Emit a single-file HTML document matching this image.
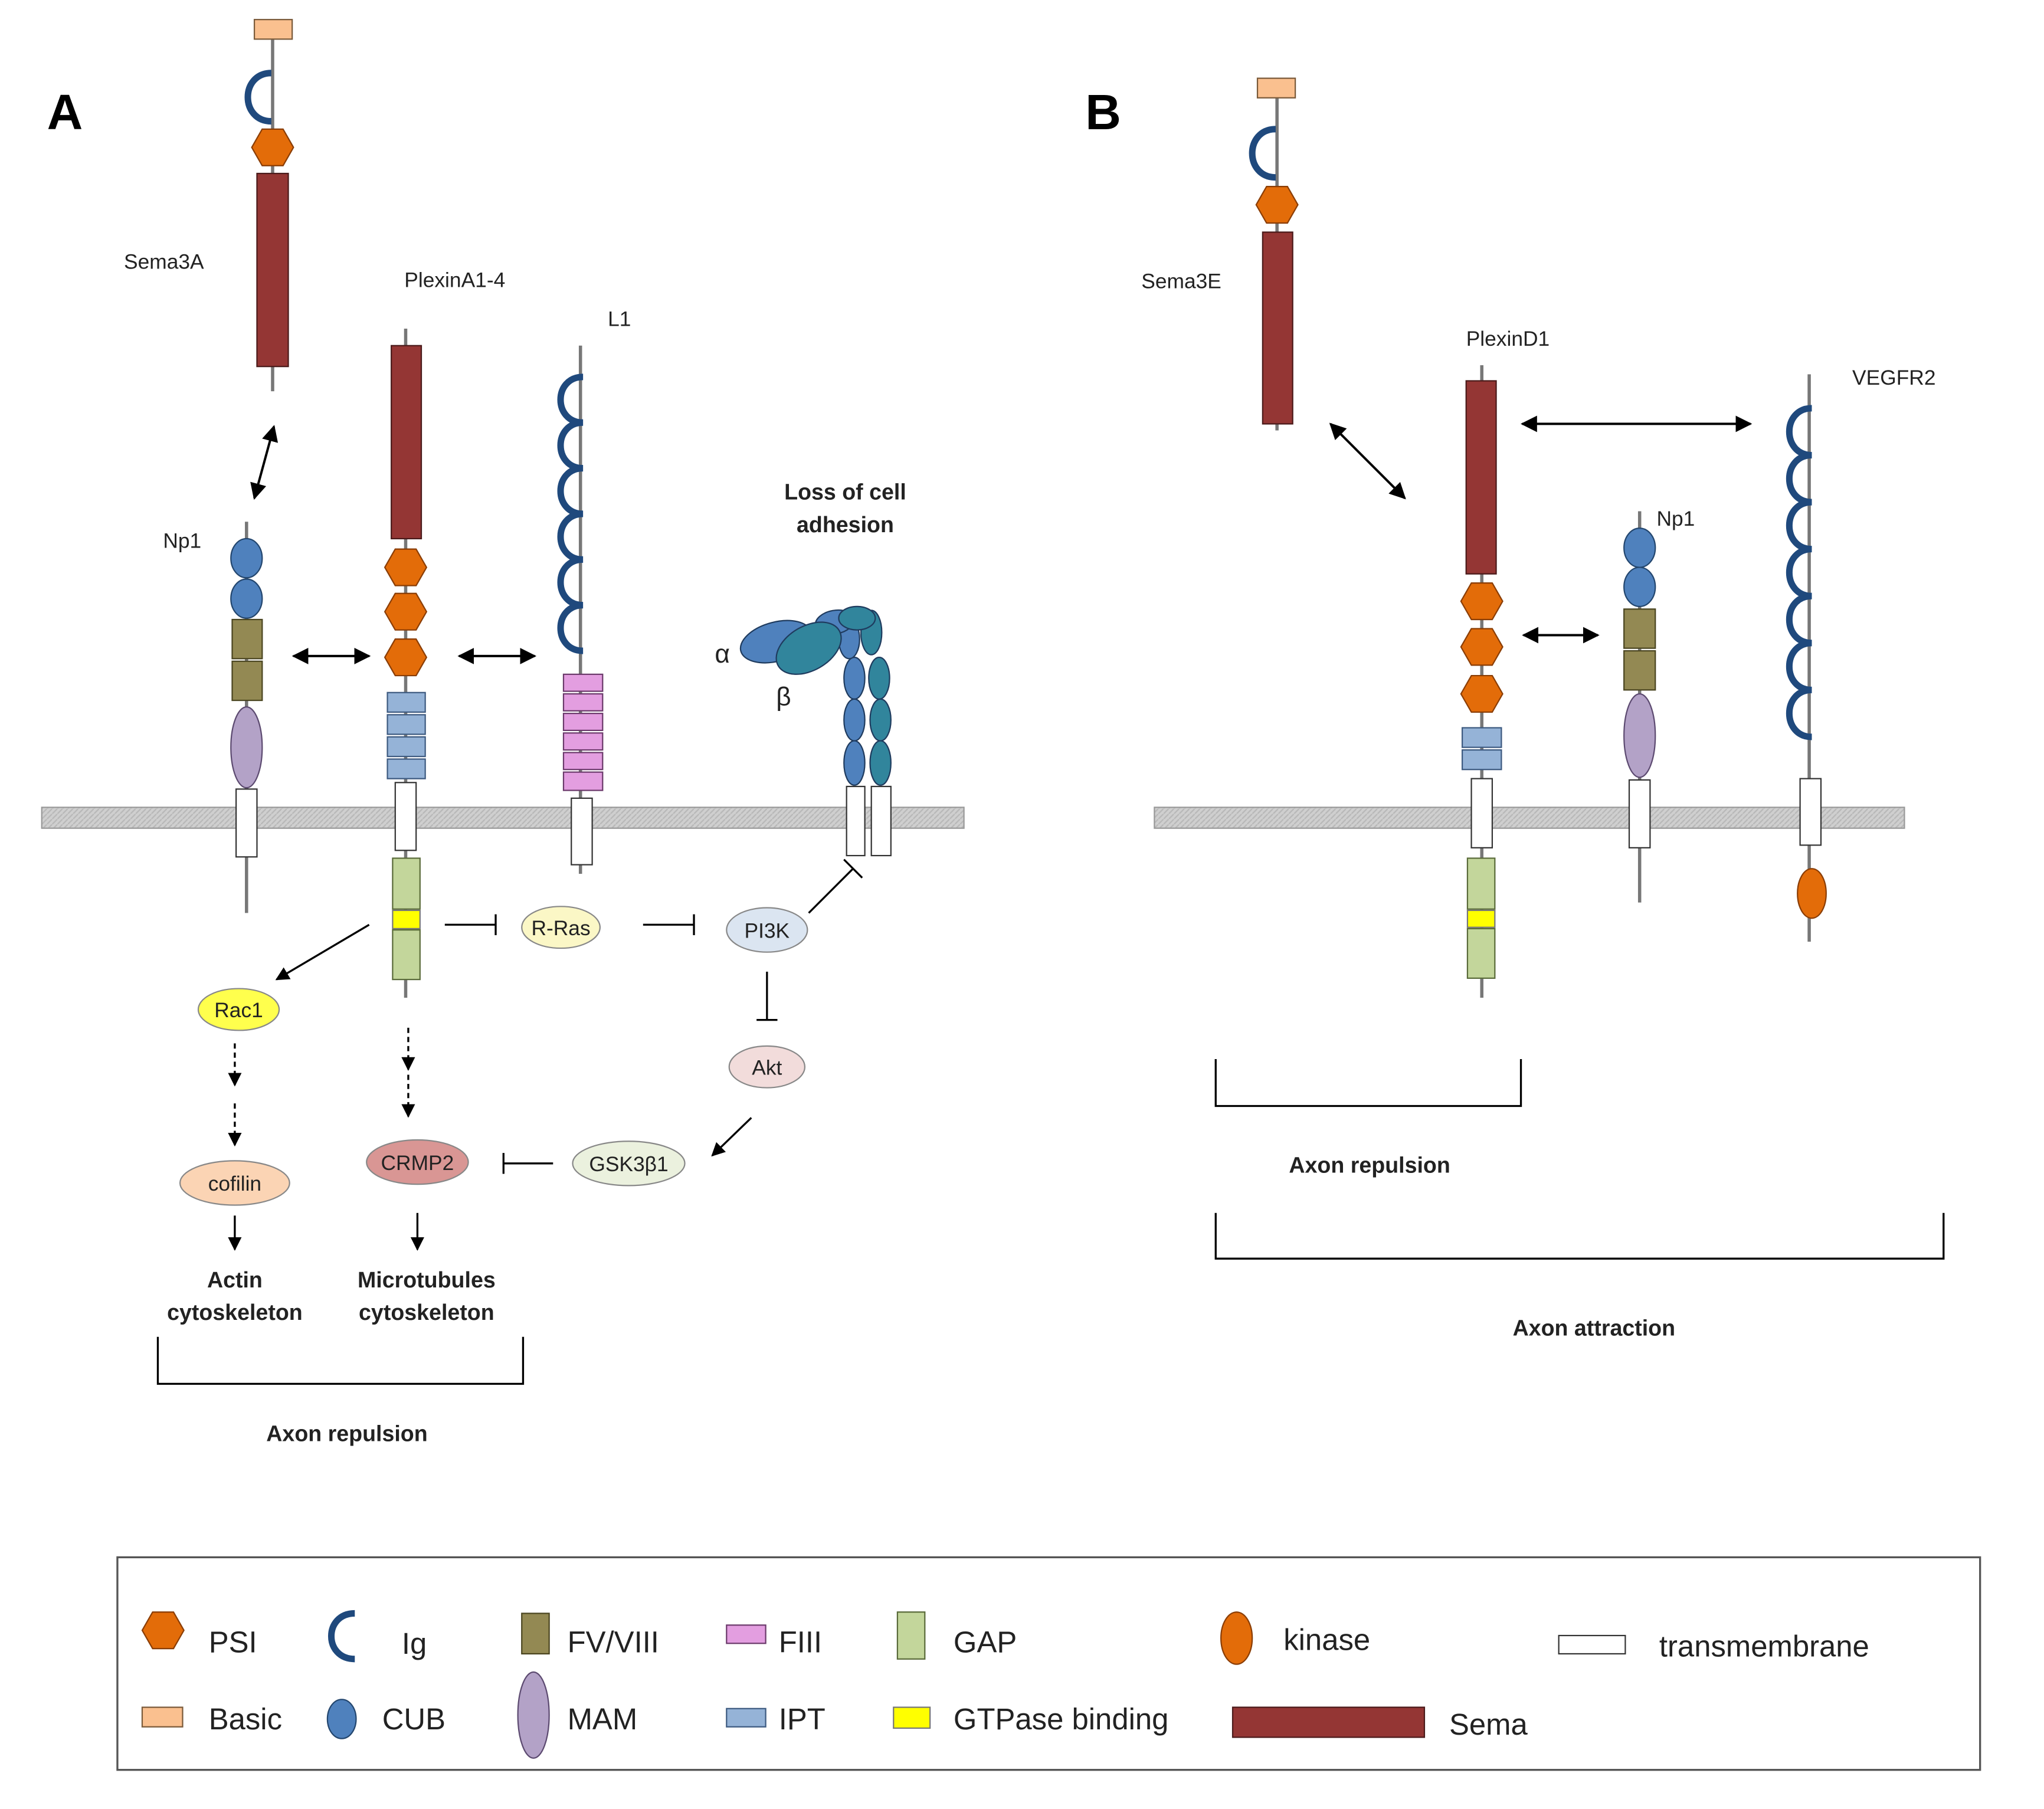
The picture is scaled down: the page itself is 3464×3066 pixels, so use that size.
<!DOCTYPE html>
<html><head><meta charset="utf-8"><style>
html,body{margin:0;padding:0;background:#fff}
svg{display:block}
text{font-family:"Liberation Sans",sans-serif;fill:#222}
.l{font-size:16px}
.b{font-size:17px;font-weight:bold}
.g{font-size:23px}
.n{font-size:16px}
</style></head><body>
<svg width="3464" height="3066" viewBox="0 0 1567 1387" preserveAspectRatio="none" xmlns="http://www.w3.org/2000/svg">
<defs>
<marker id="ah" viewBox="0 0 10 10" refX="9" refY="5" markerWidth="7" markerHeight="7" orient="auto-start-reverse"><path d="M0,0L10,5L0,10z" fill="#000"/></marker>
<pattern id="mem" width="4" height="4" patternUnits="userSpaceOnUse"><rect width="4" height="4" fill="#cfcfcf"/><path d="M0,4L4,0" stroke="#b8b8b8" stroke-width="1"/></pattern>
<g id="hex"><polygon points="-16,0 -8,-14 8,-14 16,0 8,14 -8,14" fill="#e36c09" stroke="#8a3d05" stroke-width="1"/></g>
</defs>
<rect width="1567" height="1387" fill="#fff"/>

<text x="36" y="99" style="font-size:38px;font-weight:bold;fill:#000">A</text>
<text x="832" y="99" style="font-size:38px;font-weight:bold;fill:#000">B</text>

<rect x="32" y="619" width="707" height="16" fill="url(#mem)" stroke="#999" stroke-width="1"/>
<rect x="885" y="619" width="575" height="16" fill="url(#mem)" stroke="#999" stroke-width="1"/>

<line x1="209" y1="30" x2="209" y2="300" stroke="#777" stroke-width="2.5"/>
<rect x="195" y="15" width="29" height="15" fill="#fac08f" stroke="#7a5a3a" stroke-width="1"/>
<path d="M208,56 C184,56 184,93 208,93" fill="none" stroke="#1f497d" stroke-width="5"/>
<use href="#hex" x="209" y="113"/>
<rect x="197" y="133" width="24" height="148" fill="#943634" stroke="#4a1a1a" stroke-width="1"/>
<text x="95" y="206" class="l">Sema3A</text>
<line x1="210" y1="327" x2="195" y2="382" stroke="#000" stroke-width="1.8" marker-start="url(#ah)" marker-end="url(#ah)"/>

<text x="125" y="420" class="l">Np1</text>
<line x1="189" y1="400" x2="189" y2="700" stroke="#777" stroke-width="2.5"/>
<ellipse cx="189" cy="428" rx="12" ry="15" fill="#4f81bd" stroke="#23466e" stroke-width="1"/>
<ellipse cx="189" cy="459" rx="12" ry="15" fill="#4f81bd" stroke="#23466e" stroke-width="1"/>
<rect x="178" y="475" width="23" height="30" fill="#938953" stroke="#4a4520" stroke-width="1"/>
<rect x="178" y="507" width="23" height="30" fill="#938953" stroke="#4a4520" stroke-width="1"/>
<ellipse cx="189" cy="573" rx="12" ry="31" fill="#b3a2c7" stroke="#5c4a70" stroke-width="1"/>
<rect x="181" y="605" width="16" height="52" fill="#fff" stroke="#333" stroke-width="1"/>
<line x1="225" y1="503" x2="283" y2="503" stroke="#000" stroke-width="1.8" marker-start="url(#ah)" marker-end="url(#ah)"/>

<text x="310" y="220" class="l">PlexinA1-4</text>
<line x1="311" y1="252" x2="311" y2="765" stroke="#777" stroke-width="2.5"/>
<rect x="300" y="265" width="23" height="148" fill="#943634" stroke="#4a1a1a" stroke-width="1"/>
<use href="#hex" x="311" y="435"/><use href="#hex" x="311" y="469"/><use href="#hex" x="311" y="504"/>
<g fill="#95b3d7" stroke="#3d5a80" stroke-width="1">
<rect x="297" y="531" width="29" height="15"/><rect x="297" y="548" width="29" height="15"/><rect x="297" y="565" width="29" height="15"/><rect x="297" y="582" width="29" height="15"/></g>
<rect x="303" y="600" width="16" height="52" fill="#fff" stroke="#333" stroke-width="1"/>
<rect x="301" y="658" width="21" height="39" fill="#c3d69b" stroke="#5a6b3a" stroke-width="1"/>
<rect x="301" y="698" width="21" height="14" fill="#ffff00" stroke="#777" stroke-width="1"/>
<rect x="301" y="713" width="21" height="38" fill="#c3d69b" stroke="#5a6b3a" stroke-width="1"/>
<line x1="352" y1="503" x2="410" y2="503" stroke="#000" stroke-width="1.8" marker-start="url(#ah)" marker-end="url(#ah)"/>

<text x="466" y="250" class="l">L1</text>
<line x1="445" y1="265" x2="445" y2="670" stroke="#777" stroke-width="2.5"/>
<path d="M447,289 C424,289 424,324 447,324 C424,324 424,359 447,359 C424,359 424,394 447,394 C424,394 424,429 447,429 C424,429 424,464 447,464 C424,464 424,499 447,499" fill="none" stroke="#1f497d" stroke-width="5"/>
<g fill="#e39ee0" stroke="#6b3a6b" stroke-width="1">
<rect x="432" y="517" width="30" height="13"/><rect x="432" y="532" width="30" height="13"/><rect x="432" y="547" width="30" height="13"/><rect x="432" y="562" width="30" height="13"/><rect x="432" y="577" width="30" height="13"/><rect x="432" y="592" width="30" height="14"/></g>
<rect x="438" y="612" width="16" height="51" fill="#fff" stroke="#333" stroke-width="1"/>

<text x="648" y="383" class="b" text-anchor="middle">Loss of cell</text>
<text x="648" y="408" class="b" text-anchor="middle">adhesion</text>
<g stroke="#1f3b5e" stroke-width="1">
<ellipse cx="655" cy="520" rx="8" ry="16" fill="#4f81bd"/><ellipse cx="655" cy="552" rx="8" ry="16" fill="#4f81bd"/><ellipse cx="655" cy="585" rx="8" ry="17" fill="#4f81bd"/><ellipse cx="651" cy="490" rx="8" ry="15" fill="#4f81bd"/>
<ellipse cx="674" cy="520" rx="8" ry="16" fill="#31859c"/><ellipse cx="675" cy="552" rx="8" ry="16" fill="#31859c"/><ellipse cx="675" cy="585" rx="8" ry="17" fill="#31859c"/><ellipse cx="668" cy="485" rx="8" ry="17" fill="#31859c"/>
<ellipse cx="640" cy="477" rx="15" ry="9" fill="#4f81bd" transform="rotate(-10 640 477)"/>
<ellipse cx="657" cy="474" rx="14" ry="9" fill="#31859c"/>
<ellipse cx="595" cy="492" rx="28" ry="15" fill="#4f81bd" transform="rotate(-15 595 492)"/>
<ellipse cx="620" cy="497" rx="27" ry="17" fill="#31859c" transform="rotate(-30 620 497)"/>
</g>
<rect x="649" y="603" width="14" height="53" fill="#fff" stroke="#333" stroke-width="1"/>
<rect x="668" y="603" width="15" height="53" fill="#fff" stroke="#333" stroke-width="1"/>
<text x="548" y="508" style="font-size:20px">α</text>
<text x="595" y="541" style="font-size:20px">β</text>

<g stroke="#000" stroke-width="1.5" fill="none">
<line x1="341" y1="709" x2="380" y2="709"/><line x1="380" y1="701" x2="380" y2="717"/>
<line x1="493" y1="709" x2="532" y2="709"/><line x1="532" y1="701" x2="532" y2="717"/>
<line x1="620" y1="700" x2="654" y2="666"/><line x1="647" y1="659" x2="661" y2="673"/>
<line x1="588" y1="745" x2="588" y2="782"/><line x1="580" y1="782" x2="596" y2="782"/>
<line x1="424" y1="892" x2="386" y2="892"/><line x1="386" y1="884" x2="386" y2="900"/>
<line x1="576" y1="857" x2="546" y2="886" marker-end="url(#ah)"/>
<line x1="283" y1="709" x2="212" y2="751" marker-end="url(#ah)"/>
<line x1="180" y1="800" x2="180" y2="832" stroke-dasharray="4,3" marker-end="url(#ah)"/>
<line x1="180" y1="846" x2="180" y2="878" stroke-dasharray="4,3" marker-end="url(#ah)"/>
<line x1="313" y1="788" x2="313" y2="820" stroke-dasharray="4,3" marker-end="url(#ah)"/>
<line x1="313" y1="824" x2="313" y2="856" stroke-dasharray="4,3" marker-end="url(#ah)"/>
<line x1="180" y1="932" x2="180" y2="958" marker-end="url(#ah)"/>
<line x1="320" y1="930" x2="320" y2="958" marker-end="url(#ah)"/>
<path d="M121,1025 V1061 H401 V1025"/>
</g>
<g stroke="#888" stroke-width="1">
<ellipse cx="430" cy="711" rx="30" ry="16" fill="#fbf7c6"/>
<ellipse cx="588" cy="713" rx="31" ry="17" fill="#dbe5f1"/>
<ellipse cx="588" cy="818" rx="29" ry="16" fill="#f2dcdb"/>
<ellipse cx="482" cy="892" rx="43" ry="17" fill="#ebf1de"/>
<ellipse cx="320" cy="891" rx="39" ry="17" fill="#d99694"/>
<ellipse cx="183" cy="774" rx="31" ry="16" fill="#ffff4d"/>
<ellipse cx="180" cy="907" rx="42" ry="17" fill="#fbd4b4"/>
</g>
<g text-anchor="middle">
<text x="430" y="717" class="n">R-Ras</text>
<text x="588" y="719" class="n">PI3K</text>
<text x="588" y="824" class="n">Akt</text>
<text x="482" y="898" class="n">GSK3β1</text>
<text x="320" y="897" class="n">CRMP2</text>
<text x="183" y="780" class="n">Rac1</text>
<text x="180" y="913" class="n">cofilin</text>
</g>
<text x="180" y="987" class="b" text-anchor="middle">Actin</text>
<text x="180" y="1012" class="b" text-anchor="middle">cytoskeleton</text>
<text x="327" y="987" class="b" text-anchor="middle">Microtubules</text>
<text x="327" y="1012" class="b" text-anchor="middle">cytoskeleton</text>
<text x="266" y="1105" class="b" text-anchor="middle">Axon repulsion</text>

<line x1="979" y1="75" x2="979" y2="330" stroke="#777" stroke-width="2.5"/>
<rect x="964" y="60" width="29" height="15" fill="#fac08f" stroke="#7a5a3a" stroke-width="1"/>
<path d="M978,99 C954,99 954,136 978,136" fill="none" stroke="#1f497d" stroke-width="5"/>
<use href="#hex" x="979" y="157"/>
<rect x="968" y="178" width="23" height="147" fill="#943634" stroke="#4a1a1a" stroke-width="1"/>
<text x="875" y="221" class="l">Sema3E</text>
<line x1="1020" y1="325" x2="1077" y2="382" stroke="#000" stroke-width="1.8" marker-start="url(#ah)" marker-end="url(#ah)"/>

<text x="1124" y="265" class="l">PlexinD1</text>
<line x1="1136" y1="280" x2="1136" y2="765" stroke="#777" stroke-width="2.5"/>
<rect x="1124" y="292" width="23" height="148" fill="#943634" stroke="#4a1a1a" stroke-width="1"/>
<use href="#hex" x="1136" y="461"/><use href="#hex" x="1136" y="496"/><use href="#hex" x="1136" y="532"/>
<g fill="#95b3d7" stroke="#3d5a80" stroke-width="1"><rect x="1121" y="558" width="30" height="15"/><rect x="1121" y="575" width="30" height="15"/></g>
<rect x="1128" y="597" width="16" height="53" fill="#fff" stroke="#333" stroke-width="1"/>
<rect x="1125" y="658" width="21" height="39" fill="#c3d69b" stroke="#5a6b3a" stroke-width="1"/>
<rect x="1125" y="698" width="21" height="13" fill="#ffff00" stroke="#777" stroke-width="1"/>
<rect x="1125" y="712" width="21" height="38" fill="#c3d69b" stroke="#5a6b3a" stroke-width="1"/>
<line x1="1167" y1="325" x2="1342" y2="325" stroke="#000" stroke-width="1.8" marker-start="url(#ah)" marker-end="url(#ah)"/>
<line x1="1168" y1="487" x2="1225" y2="487" stroke="#000" stroke-width="1.8" marker-start="url(#ah)" marker-end="url(#ah)"/>

<text x="1270" y="403" class="l">Np1</text>
<line x1="1257" y1="392" x2="1257" y2="692" stroke="#777" stroke-width="2.5"/>
<ellipse cx="1257" cy="420" rx="12" ry="15" fill="#4f81bd" stroke="#23466e" stroke-width="1"/>
<ellipse cx="1257" cy="450" rx="12" ry="15" fill="#4f81bd" stroke="#23466e" stroke-width="1"/>
<rect x="1245" y="467" width="24" height="30" fill="#938953" stroke="#4a4520" stroke-width="1"/>
<rect x="1245" y="499" width="24" height="30" fill="#938953" stroke="#4a4520" stroke-width="1"/>
<ellipse cx="1257" cy="564" rx="12" ry="32" fill="#b3a2c7" stroke="#5c4a70" stroke-width="1"/>
<rect x="1249" y="598" width="16" height="52" fill="#fff" stroke="#333" stroke-width="1"/>

<text x="1420" y="295" class="l">VEGFR2</text>
<line x1="1387" y1="287" x2="1387" y2="722" stroke="#777" stroke-width="2.5"/>
<path d="M1389,313 C1366,313 1366,349 1389,349 C1366,349 1366,385 1389,385 C1366,385 1366,421 1389,421 C1366,421 1366,457 1389,457 C1366,457 1366,493 1389,493 C1366,493 1366,529 1389,529 C1366,529 1366,565 1389,565" fill="none" stroke="#1f497d" stroke-width="5"/>
<rect x="1380" y="597" width="16" height="51" fill="#fff" stroke="#333" stroke-width="1"/>
<ellipse cx="1389" cy="685" rx="11" ry="19" fill="#e36c09" stroke="#8a3d05" stroke-width="1"/>

<g stroke="#000" stroke-width="1.5" fill="none">
<path d="M932,812 V848 H1166 V812"/>
<path d="M932,930 V965 H1490 V930"/>
</g>
<text x="1050" y="899" class="b" text-anchor="middle">Axon repulsion</text>
<text x="1222" y="1024" class="b" text-anchor="middle">Axon attraction</text>

<rect x="90" y="1194" width="1428" height="163" fill="#fff" stroke="#555" stroke-width="1.5"/>
<use href="#hex" x="125" y="1250"/>
<text x="160" y="1267" class="g">PSI</text>
<path d="M272,1237 C248,1237 248,1272 272,1272" fill="none" stroke="#1f497d" stroke-width="5"/>
<text x="308" y="1268" class="g">Ig</text>
<rect x="400" y="1237" width="21" height="31" fill="#938953" stroke="#4a4520" stroke-width="1"/>
<text x="435" y="1267" class="g">FV/VIII</text>
<rect x="557" y="1246" width="30" height="14" fill="#e39ee0" stroke="#6b3a6b" stroke-width="1"/>
<text x="597" y="1267" class="g">FIII</text>
<rect x="688" y="1236" width="21" height="36" fill="#c3d69b" stroke="#5a6b3a" stroke-width="1"/>
<text x="731" y="1267" class="g">GAP</text>
<ellipse cx="948" cy="1256" rx="12" ry="20" fill="#e36c09" stroke="#8a3d05" stroke-width="1"/>
<text x="984" y="1265" class="g">kinase</text>
<rect x="1195" y="1254" width="51" height="14" fill="#fff" stroke="#333" stroke-width="1"/>
<text x="1272" y="1270" class="g">transmembrane</text>
<rect x="109" y="1309" width="31" height="15" fill="#fac08f" stroke="#7a5a3a" stroke-width="1"/>
<text x="160" y="1326" class="g">Basic</text>
<ellipse cx="262" cy="1318" rx="11" ry="15" fill="#4f81bd" stroke="#23466e" stroke-width="1"/>
<text x="293" y="1326" class="g">CUB</text>
<ellipse cx="409" cy="1315" rx="12" ry="33" fill="#b3a2c7" stroke="#5c4a70" stroke-width="1"/>
<text x="435" y="1326" class="g">MAM</text>
<rect x="557" y="1310" width="30" height="14" fill="#95b3d7" stroke="#3d5a80" stroke-width="1"/>
<text x="597" y="1326" class="g">IPT</text>
<rect x="685" y="1309" width="28" height="16" fill="#ffff00" stroke="#777" stroke-width="1"/>
<text x="731" y="1326" class="g">GTPase binding</text>
<rect x="945" y="1309" width="147" height="23" fill="#943634" stroke="#4a1a1a" stroke-width="1"/>
<text x="1111" y="1330" class="g">Sema</text>
</svg>
</body></html>
